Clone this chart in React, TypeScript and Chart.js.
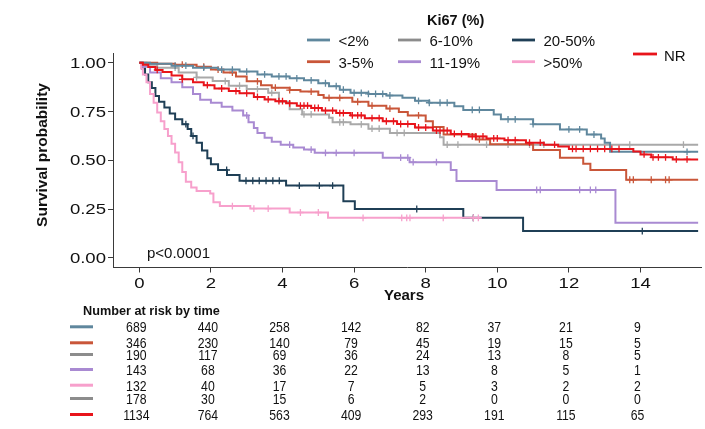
import React, { useEffect, useRef } from "react";
import { Chart, registerables } from "chart.js";

Chart.register(...registerables);

const FONT = "'Liberation Sans', Arial, Helvetica, sans-serif";
const INK = "#111111";
const AXIS = "#3a3a3a";

// ---- axes ----
const X_MIN = -0.735;
const X_MAX = 15.69;
const Y_MIN = -0.05;
const Y_MAX = 1.05;
const xTicks = [0, 2, 4, 6, 8, 10, 12, 14];
const yTicks = [0, 0.25, 0.5, 0.75, 1];
const yTickLabels = ["0.00", "0.25", "0.50", "0.75", "1.00"];

// ---- series: <2% ----
const lt2Times = [0, 0.3, 0.9, 1.5, 2.2, 2.8, 3.3, 3.7, 4.2, 4.6, 5.0, 5.3, 5.6, 5.9, 6.4, 6.9, 7.35, 7.7, 8.1, 8.8, 9.05, 9.9, 10.1, 11.0, 11.75, 12.5, 12.9, 13.0, 13.15];
const lt2Surv = [1, 0.995, 0.985, 0.975, 0.965, 0.955, 0.94, 0.93, 0.92, 0.91, 0.895, 0.88, 0.862, 0.846, 0.84, 0.832, 0.82, 0.805, 0.795, 0.777, 0.758, 0.735, 0.71, 0.685, 0.658, 0.632, 0.612, 0.59, 0.543];
const lt2Cens = [1.0, 1.3, 1.8, 2.3, 2.6, 3.0, 3.5, 3.9, 4.1, 4.4, 4.8, 5.2, 5.5, 5.7, 6.0, 6.2, 6.4, 6.6, 6.8, 7.0, 7.8, 8.1, 8.4, 8.6, 9.3, 9.5, 10.3, 10.5, 11.0, 12.0, 12.3, 12.7, 15.3];
// ---- series: 3-5% ----
const p35Times = [0, 0.5, 1.0, 1.6, 2.0, 2.35, 2.7, 3.0, 3.4, 3.7, 4.2, 4.5, 5.0, 5.15, 5.95, 6.4, 6.9, 7.25, 7.5, 8.0, 8.2, 8.5, 9.4, 9.8, 11.0, 11.75, 12.4, 12.6, 13.6];
const p35Surv = [1, 0.995, 0.99, 0.98, 0.965, 0.95, 0.93, 0.905, 0.885, 0.872, 0.86, 0.852, 0.835, 0.82, 0.8, 0.78, 0.765, 0.748, 0.73, 0.7, 0.67, 0.632, 0.607, 0.582, 0.553, 0.513, 0.482, 0.45, 0.4];
const p35Cens = [1.2, 1.8, 2.2, 2.6, 3.3, 3.8, 4.2, 4.8, 5.3, 5.6, 6.1, 6.5, 7.0, 7.8, 9.5, 13.7, 13.8, 14.3, 14.7, 14.8];
// ---- series: 6-10% ----
const p610Times = [0, 0.2, 0.5, 1.1, 1.6, 2.05, 2.5, 3.0, 3.6, 3.9, 4.2, 4.55, 5.3, 5.4, 5.9, 6.4, 7.0, 8.4, 8.5];
const p610Surv = [1, 0.99, 0.975, 0.95, 0.925, 0.906, 0.882, 0.865, 0.846, 0.8, 0.762, 0.735, 0.718, 0.695, 0.684, 0.662, 0.64, 0.618, 0.58];
const p610Cens = [1.0, 1.6, 2.4, 2.8, 3.3, 3.7, 4.6, 4.8, 5.6, 5.7, 6.2, 6.5, 6.7, 7.2, 7.4, 8.6, 8.9, 9.7, 10.3, 10.9, 11.3, 13.7, 15.2];
// ---- series: 11-19% ----
const p1119Times = [0, 0.1, 0.3, 0.6, 0.9, 1.2, 1.5, 1.7, 2.0, 2.3, 2.6, 2.9, 3.05, 3.2, 3.3, 3.5, 3.7, 3.95, 4.3, 4.6, 4.9, 6.8, 7.55, 8.7, 8.86, 9.98, 13.3];
const p1119Surv = [1, 0.98, 0.95, 0.92, 0.9, 0.875, 0.84, 0.81, 0.795, 0.775, 0.755, 0.73, 0.695, 0.665, 0.64, 0.615, 0.595, 0.58, 0.565, 0.555, 0.538, 0.513, 0.49, 0.45, 0.393, 0.348, 0.18];
const p1119Cens = [3.0, 4.2, 4.8, 5.2, 5.5, 6.0, 7.3, 7.5, 7.65, 8.3, 11.1, 11.2, 12.3, 12.6, 12.75];
// ---- series: 20-50% ----
const p2050Times = [0, 0.08, 0.16, 0.25, 0.35, 0.45, 0.55, 0.7, 0.85, 1.0, 1.2, 1.35, 1.45, 1.6, 1.75, 1.9, 2.0, 2.2, 2.45, 2.8, 4.1, 5.7, 6.02, 9.05, 10.72];
const p2050Surv = [1, 0.97, 0.94, 0.9, 0.87, 0.83, 0.8, 0.77, 0.74, 0.71, 0.685, 0.66, 0.625, 0.59, 0.55, 0.51, 0.48, 0.45, 0.425, 0.395, 0.37, 0.29, 0.25, 0.205, 0.137];
const p2050Cens = [1.3, 1.5, 2.44, 2.98, 3.17, 3.35, 3.54, 3.73, 3.91, 4.47, 5.03, 5.4, 7.75, 9.33, 14.05];
// ---- series: >50% ----
const gt50Times = [0, 0.05, 0.1, 0.2, 0.3, 0.4, 0.5, 0.6, 0.7, 0.8, 0.9, 1.0, 1.1, 1.2, 1.3, 1.45, 1.6, 1.98, 2.07, 2.25, 3.1, 4.2, 5.27];
const gt50Surv = [1, 0.97, 0.94, 0.9, 0.84, 0.795, 0.745, 0.7, 0.66, 0.625, 0.585, 0.54, 0.49, 0.44, 0.39, 0.36, 0.342, 0.33, 0.285, 0.265, 0.252, 0.232, 0.205];
const gt50Cens = [2.6, 3.2, 3.6, 4.5, 5.0, 6.25, 7.33, 7.47, 7.56, 8.49, 9.33, 9.47];
// ---- series: NR ----
const nrTimes = [0, 0.1, 0.25, 0.45, 0.65, 0.9, 1.2, 1.5, 1.8, 2.1, 2.5, 2.8, 3.2, 3.5, 3.8, 4.1, 4.4, 4.8, 5.1, 5.5, 5.9, 6.3, 6.8, 7.2, 7.7, 8.2, 8.7, 9.2, 9.7, 10.2, 10.8, 11.3, 11.7, 12.0, 13.8, 14.0, 14.3, 14.9];
const nrSurv = [1, 0.99, 0.978, 0.963, 0.952, 0.935, 0.915, 0.9, 0.885, 0.868, 0.855, 0.843, 0.825, 0.812, 0.803, 0.792, 0.78, 0.768, 0.755, 0.742, 0.73, 0.716, 0.7, 0.686, 0.668, 0.652, 0.635, 0.622, 0.612, 0.603, 0.59, 0.58, 0.57, 0.558, 0.545, 0.53, 0.515, 0.504];
const nrCens = [0.5, 1.2, 1.9, 2.3, 2.7, 3.0, 3.3, 3.6, 3.9, 4.0, 4.2, 4.5, 4.6, 4.7, 4.9, 5.0, 5.2, 5.4, 5.6, 5.7, 5.95, 6.1, 6.2, 6.5, 6.7, 6.9, 7.1, 7.3, 7.5, 7.8, 8.0, 8.3, 8.4, 8.6, 8.8, 9.0, 9.3, 9.4, 9.6, 9.9, 10.0, 10.3, 10.5, 10.9, 11.2, 11.6, 12.1, 12.2, 12.4, 12.6, 12.8, 13.0, 13.2, 13.4, 14.1, 14.35, 14.5, 14.7, 15.0, 15.3];

const endTimes = [15.61, 15.61, 15.61, 15.61, 15.61, 9.56, 15.61];
const seriesLabels = ["<2%", "3-5%", "6-10%", "11-19%", "20-50%", ">50%", "NR"];
const seriesColors = ["#5f879d", "#c95639", "#a9a9a9", "#a98ad2", "#1f3f56", "#f7a0cc", "#e8141b"];
const legendColors = ["#5f879d", "#c95639", "#8c8c8c", "#a98ad2", "#1f3f56", "#f7a0cc", "#e8141b"];

// ---- risk table ----
const riskTimes = [0, 2, 4, 6, 8, 10, 12, 14];
const riskRow1 = [689, 440, 258, 142, 82, 37, 21, 9];
const riskRow2 = [346, 230, 140, 79, 45, 19, 15, 5];
const riskRow3 = [190, 117, 69, 36, 24, 13, 8, 5];
const riskRow4 = [143, 68, 36, 22, 13, 8, 5, 1];
const riskRow5 = [132, 40, 17, 7, 5, 3, 2, 2];
const riskRow6 = [178, 30, 15, 6, 2, 0, 0, 0];
const riskRow7 = [1134, 764, 563, 409, 293, 191, 115, 65];
const riskColors = ["#5f879d", "#c95639", "#8c8c8c", "#a98ad2", "#f7a0cc", "#8c8c8c", "#e8141b"];

type Pt = { x: number; y: number; c: boolean };

function buildPoints(times: number[], surv: number[], cens: number[], end: number): Pt[] {
  const survAt = (t: number) => {
    let s = surv[0];
    for (let i = 0; i < times.length; i++) if (times[i] <= t) s = surv[i];
    return s;
  };
  const pts: Pt[] = times.map((t, i) => ({ x: t, y: surv[i], c: false }));
  cens.forEach((t) => pts.push({ x: t, y: survAt(t), c: true }));
  pts.push({ x: end, y: survAt(end), c: false });
  pts.sort((a, b) => a.x - b.x || (a.c ? 1 : 0) - (b.c ? 1 : 0));
  return pts;
}

function stretched(ctx: CanvasRenderingContext2D, s: string, x: number, y: number, align: CanvasTextAlign, sx: number) {
  ctx.save();
  ctx.translate(x, y);
  ctx.scale(sx, 1);
  ctx.textAlign = align;
  ctx.fillText(s, 0, 0);
  ctx.restore();
}

const overlay = {
  id: "overlay",
  afterDraw(chart: any) {
    const ctx: CanvasRenderingContext2D = chart.ctx;
    const xs = chart.scales.x;
    const ys = chart.scales.y;
    ctx.save();
    ctx.fillStyle = INK;
    ctx.textBaseline = "alphabetic";

    // tick labels
    ctx.font = `14.5px ${FONT}`;
    yTicks.forEach((v, i) => stretched(ctx, yTickLabels[i], 106, ys.getPixelForValue(v) + 5.2, "right", 1.28));
    xTicks.forEach((v) => stretched(ctx, String(v), xs.getPixelForValue(v), 288.3, "center", 1.28));

    // axis titles
    ctx.font = `bold 15px ${FONT}`;
    ctx.textAlign = "center";
    ctx.fillText("Years", 404, 300);
    ctx.save();
    ctx.translate(46.5, 155);
    ctx.rotate(-Math.PI / 2);
    ctx.font = `bold 15.5px ${FONT}`;
    ctx.fillText("Survival probability", 0, 0);
    ctx.restore();

    // p-value
    ctx.font = `15px ${FONT}`;
    ctx.textAlign = "left";
    ctx.fillText("p<0.0001", 147, 258.3);

    // legend
    ctx.font = `bold 14.5px ${FONT}`;
    ctx.fillText("Ki67 (%)", 427, 24.5);
    const cols = [307, 398, 512];
    const rows = [40, 61.7];
    const order = [0, 1, 2, 3, 4, 5];
    ctx.font = `15px ${FONT}`;
    order.forEach((si, k) => {
      const col = Math.floor(k / 2);
      const row = k % 2;
      const lx = cols[col];
      const ly = rows[row];
      ctx.strokeStyle = legendColors[si];
      ctx.lineWidth = 2.8;
      ctx.beginPath();
      ctx.moveTo(lx, ly);
      ctx.lineTo(lx + 23, ly);
      ctx.stroke();
      ctx.fillStyle = INK;
      ctx.fillText(seriesLabels[si], lx + 31.5, ly + 5.8);
    });
    ctx.strokeStyle = legendColors[6];
    ctx.lineWidth = 2.8;
    ctx.beginPath();
    ctx.moveTo(633, 54);
    ctx.lineTo(657, 54);
    ctx.stroke();
    ctx.fillText(seriesLabels[6], 664, 60.5);

    // risk table
    ctx.font = `bold 12.7px ${FONT}`;
    ctx.textAlign = "left";
    ctx.fillText("Number at risk by time", 83, 315);
    const riskRows = [riskRow1, riskRow2, riskRow3, riskRow4, riskRow5, riskRow6, riskRow7];
    const baselines = [332.3, 348.3, 360, 375, 390.7, 404, 420];
    ctx.font = `13.6px ${FONT}`;
    ctx.textAlign = "center";
    riskRows.forEach((row, r) => {
      const by = baselines[r];
      ctx.strokeStyle = riskColors[r];
      ctx.lineWidth = 3;
      ctx.beginPath();
      ctx.moveTo(70, by - 5.5);
      ctx.lineTo(93, by - 5.5);
      ctx.stroke();
      ctx.fillStyle = INK;
      row.forEach((n, j) => {
        const cx = xs.getPixelForValue(riskTimes[j]) - 3;
        ctx.save();
        ctx.translate(cx, by);
        ctx.scale(0.9, 1.05);
        ctx.fillText(String(n), 0, 0);
        ctx.restore();
      });
    });
    ctx.restore();
  },
};

export default function App() {
  const ref = useRef<HTMLCanvasElement | null>(null);
  useEffect(() => {
    if (!ref.current) return;
    const all = [
      [lt2Times, lt2Surv, lt2Cens],
      [p35Times, p35Surv, p35Cens],
      [p610Times, p610Surv, p610Cens],
      [p1119Times, p1119Surv, p1119Cens],
      [p2050Times, p2050Surv, p2050Cens],
      [gt50Times, gt50Surv, gt50Cens],
      [nrTimes, nrSurv, nrCens],
    ];
    // draw order: first dataset is drawn on top
    const drawOrder = [6, 0, 1, 2, 3, 5, 4];
    const datasets = drawOrder.map((si) => ({
      label: seriesLabels[si],
      data: buildPoints(all[si][0], all[si][1], all[si][2], endTimes[si]),
      borderColor: seriesColors[si],
      backgroundColor: seriesColors[si],
      borderWidth: 2,
      stepped: true as const,
      fill: false,
      pointStyle: "cross" as const,
      pointRadius: (c: any) => (c.raw && c.raw.c ? 3.4 : 0),
      pointBorderWidth: 1.3,
      pointBorderColor: seriesColors[si],
      pointHoverRadius: 0,
    }));
    const chart = new Chart(ref.current, {
      type: "line",
      data: { datasets },
      options: {
        responsive: false,
        animation: false,
        events: [],
        parsing: false as any,
        layout: { padding: { left: 0, right: 4, top: 53, bottom: 0 } },
        plugins: { legend: { display: false }, tooltip: { enabled: false } },
        scales: {
          x: {
            type: "linear",
            min: X_MIN,
            max: X_MAX,
            afterBuildTicks: (s: any) => {
              s.ticks = xTicks.map((v) => ({ value: v }));
            },
            afterFit: (s: any) => {
              s.height = 161.5;
            },
            ticks: { display: false },
            grid: { display: true, drawOnChartArea: false, drawTicks: true, tickLength: 5, color: AXIS, lineWidth: 1 },
            border: { display: true, color: AXIS, width: 1 },
          },
          y: {
            type: "linear",
            min: Y_MIN,
            max: Y_MAX,
            afterBuildTicks: (s: any) => {
              s.ticks = yTicks.map((v) => ({ value: v }));
            },
            afterFit: (s: any) => {
              s.width = 113;
            },
            ticks: { display: false },
            grid: { display: true, drawOnChartArea: false, drawTicks: true, tickLength: 5, color: AXIS, lineWidth: 1 },
            border: { display: true, color: AXIS, width: 1 },
          },
        },
      },
      plugins: [overlay],
    });
    return () => chart.destroy();
  }, []);
  return (
    <div style={{ position: "fixed", left: 0, top: 0, width: 705, height: 429, background: "#ffffff" }}>
      <canvas ref={ref} width={705} height={429} style={{ width: 705, height: 429, display: "block" }} />
    </div>
  );
}
